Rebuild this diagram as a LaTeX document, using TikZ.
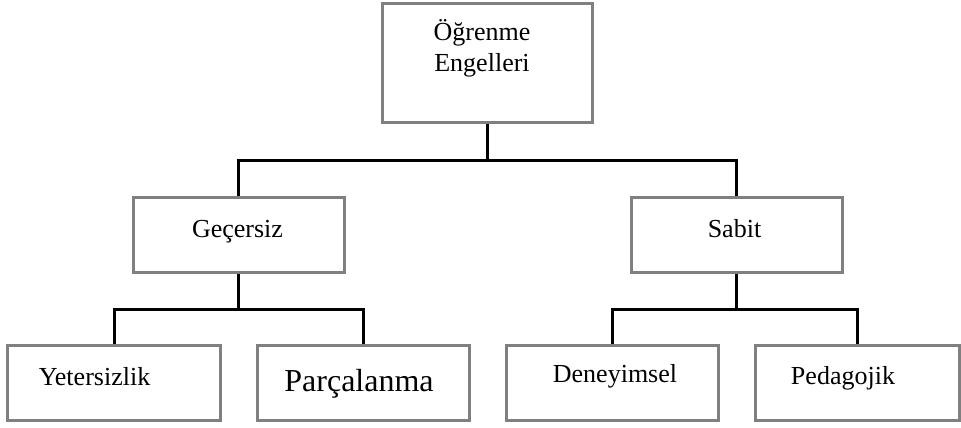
\documentclass[tikz,border=0pt]{standalone}
\usepackage{fontspec}
\setmainfont{Liberation Serif}
\definecolor{cbox}{HTML}{808080}
\tikzset{
  every picture/.style={line width=0.06cm},
  box/.style={draw=cbox, fill=white, minimum width=#1, minimum height=1.5cm, inner sep=0pt},
  box/.default=4.22cm,
  link/.style={draw=black, line width=0.06cm},
  lbl/.style={font=\fontsize{14.8}{17.8}\selectfont, inner sep=0pt, anchor=base},
  biglbl/.style={lbl, font=\fontsize{18.2}{21.8}\selectfont},
}

\begin{document}
\begin{tikzpicture}
  \useasboundingbox (0,0) rectangle (19.22,-8.54);
  % root
  \node[box=4.2cm, minimum height=2.38cm] (top) at (9.74,-1.25) {};
  \node[lbl, anchor=center, align=center] (ttop) at (9.64,-0.97) {Öğrenme\\Engelleri};
  % middle level
  \node[box] (gec) at (4.77,-4.69) {};
  \node[box] (sab) at (14.73,-4.69) {};
  \node[lbl] (tgec) at (4.75,-4.74) {Geçersiz};
  \node[lbl] (tsab) at (14.69,-4.74) {Sabit};
  % bottom level
  \node[box=4.24cm] (yet) at (2.28,-7.65) {};
  \node[box=4.24cm] (parc) at (7.26,-7.65) {};
  \node[box=4.24cm] (den) at (12.24,-7.65) {};
  \node[box=4.08cm] (ped) at (17.14,-7.65) {};
  \node[lbl] (tyet) at (1.89,-7.70) {Yetersizlik};
  \node[biglbl] (tparc) at (7.18,-7.82) {Parçalanma};
  \node[lbl] (tden) at (12.30,-7.64) {Deneyimsel};
  \node[lbl] (tped) at (16.86,-7.68) {Pedagojik};
  % connectors
  \coordinate (j1) at (9.74,-3.21);
  \coordinate (j2) at (4.77,-6.18);
  \coordinate (j3) at (14.73,-6.18);
  \draw[link] (top.south) -- (j1);
  \draw[link] (gec.north) |- (j1) -| (sab.north);
  \draw[link] (gec.south) -- (j2);
  \draw[link] (yet.north) |- (j2) -| (parc.north);
  \draw[link] (sab.south) -- (j3);
  \draw[link] (den.north) |- (j3) -| (ped.north);
\end{tikzpicture}
\end{document}
